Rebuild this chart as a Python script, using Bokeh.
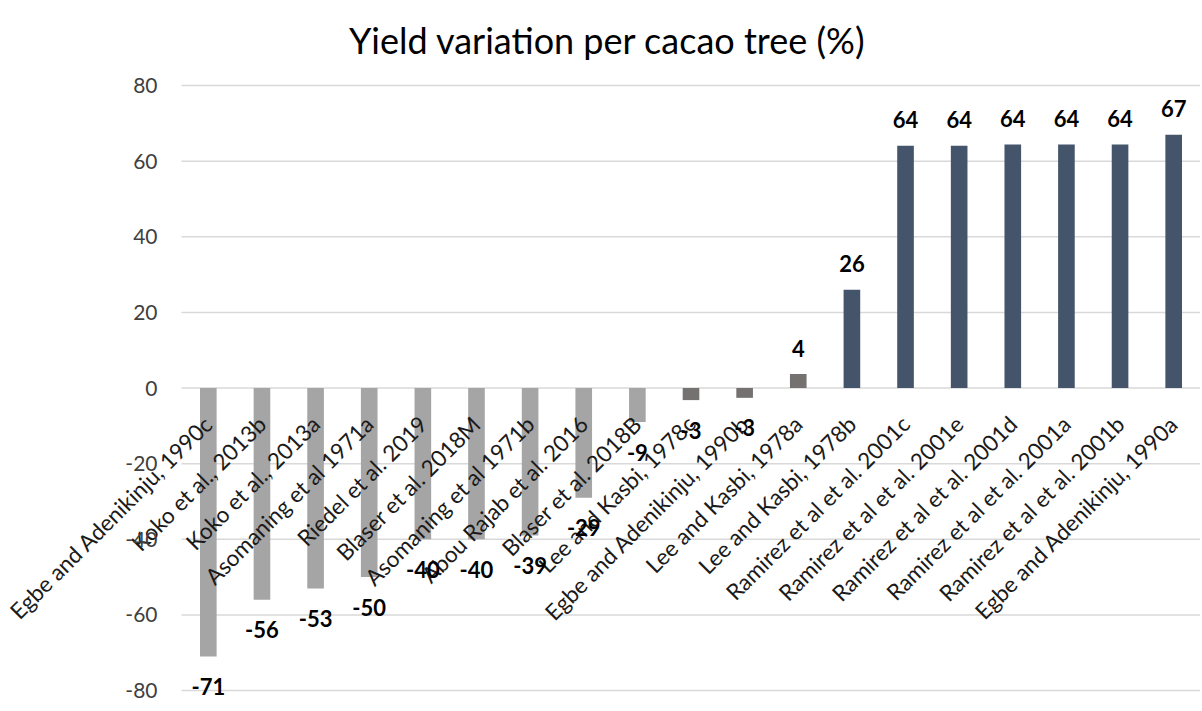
from math import pi
from bokeh.plotting import figure
from bokeh.models import (ColumnDataSource, Range1d, FixedTicker, LabelSet, Label)
from bokeh.core.properties import value
from bokeh.transform import factor_cmap
from bokeh.embed import file_html
from bokeh.resources import INLINE

# ---- data -------------------------------------------------------------
studies = [
    "Egbe and Adenikinju, 1990c", "Koko et al., 2013b", "Koko et al., 2013a",
    "Asomaning et al 1971a", "Riedel et al. 2019", "Blaser et al. 2018M",
    "Asomaning et al 1971b", "Abou Rajab et al. 2016", "Blaser et al. 2018B",
    "Lee and Kasbi, 1978c", "Egbe and Adenikinju, 1990b", "Lee and Kasbi, 1978a",
    "Lee and Kasbi, 1978b", "Ramirez et al et al. 2001c", "Ramirez et al et al. 2001e",
    "Ramirez et al et al. 2001d", "Ramirez et al et al. 2001a", "Ramirez et al et al. 2001b",
    "Egbe and Adenikinju, 1990a",
]
yield_variation = [-71, -56, -53, -50, -40, -40, -39, -29, -9, -3.2, -2.6, 3.7,
                   26, 64.1, 64.1, 64.4, 64.4, 64.4, 67]
effect_class = ["decrease"] * 9 + ["neutral"] * 3 + ["increase"] * 7
y_ticks = [-80, -60, -40, -20, 0, 20, 40, 60, 80]
title_text = "Yield variation per cacao tree (%)"

class_names = ["decrease", "neutral", "increase"]
class_colors = ["#A5A5A5", "#767171", "#44546A"]

FONT = "Lato"
W, H = 1200, 704

n = len(studies)
idx = list(range(n))
src = ColumnDataSource(dict(
    idx=idx,
    study=studies,
    value=yield_variation,
    effect=effect_class,
    label=[str(int(round(v))) for v in yield_variation],
    lab_off=[26 if v >= 0 else -30 for v in yield_variation],
))

first_edge = idx[0] - 0.5
last_edge = idx[-1] + 0.5

p = figure(x_range=Range1d(first_edge - 3.375, last_edge), y_range=Range1d(-83.7, 102.48),
           width=W, height=H, output_backend="svg", toolbar_location=None,
           min_border=0)
p.outline_line_color = None
p.background_fill_color = "white"
p.border_fill_color = "white"
p.xgrid.visible = False
p.ygrid.visible = False

# horizontal gridlines across the category area
p.segment(x0=[first_edge] * len(y_ticks), x1=[last_edge] * len(y_ticks),
          y0=y_ticks, y1=y_ticks, line_color="#D9D9D9", line_width=1.5)

p.vbar(x="idx", top="value", width=0.31, source=src, line_color=None,
       fill_color=factor_cmap("effect", palette=class_colors, factors=class_names))

# value axis at the left edge of the category area
ay = p.yaxis[0]
ay.fixed_location = first_edge
ay.ticker = FixedTicker(ticks=y_ticks)
ay.axis_line_color = None
ay.major_tick_line_color = None
ay.minor_tick_line_color = None
ay.major_tick_out = 0
ay.major_tick_in = 0
ay.major_label_standoff = 24
ay.major_label_text_font = FONT
ay.major_label_text_font_size = "21px"
ay.major_label_text_color = "#404040"
ay.major_label_overrides = {t: str(t) for t in y_ticks}

# category axis sitting on the zero line
ax = p.xaxis[0]
ax.fixed_location = 0
ax.ticker = FixedTicker(ticks=idx)
ax.major_label_overrides = {i: s for i, s in zip(idx, studies)}
ax.axis_line_color = None
ax.major_tick_line_color = None
ax.minor_tick_line_color = None
ax.major_tick_out = 0
ax.major_tick_in = 0
ax.major_label_orientation = pi / 4
ax.major_label_standoff = 32
ax.major_label_text_font = FONT
ax.major_label_text_font_size = "22.5px"
ax.major_label_text_color = "#1a1a1a"

# value labels
vals = LabelSet(x="idx", y="value", text="label", source=src, y_offset="lab_off",
                text_align="center", text_baseline="middle", text_font=value(FONT),
                text_font_size="22px", text_font_style="bold", text_color="#000000")
p.add_layout(vals)

# title
p.add_layout(Label(x=607, y=H - 39, x_units="screen", y_units="screen", text=title_text,
                   text_align="center", text_baseline="alphabetic", text_font=FONT,
                   text_font_size="36px", text_color="#000000"))

open("out.html", "w").write(file_html(p, INLINE))
